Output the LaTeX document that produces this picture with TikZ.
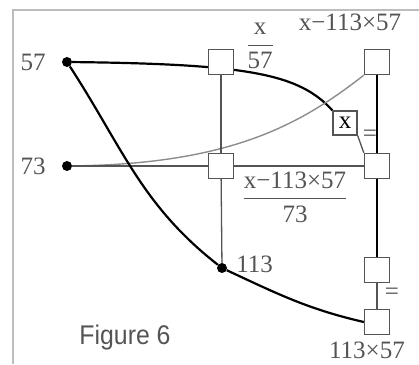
\documentclass[tikz,border=0pt]{standalone}
\usepackage{amsmath}
\usepackage{fontspec}
\setmainfont{Liberation Serif}
\setsansfont{Liberation Sans}
\usetikzlibrary{positioning,backgrounds}
\definecolor{marco}{rgb}{0.74,0.74,0.74}
\definecolor{grisclaro}{rgb}{0.55,0.55,0.55}
\definecolor{grisoscuro}{rgb}{0.33,0.33,0.33}
\newcommand{\rotulo}{\fontsize{25}{27}\selectfont}
\tikzset{
  casilla/.style={
    draw=grisoscuro,
    fill=white,
    line width=1.4pt,
    minimum size=25pt,
    inner sep=0pt,
    font=\rotulo
  },
  punto/.style={
    circle,
    fill=black,
    minimum size=10pt,
    inner sep=0pt
  },
  etiqueta/.style={
    text=grisoscuro,
    inner sep=1pt,
    font=\rotulo
  },
  grueso/.style={
    line width=2.2pt,
    black
  },
  fino/.style={
    line width=1.3pt,
    grisoscuro
  },
  gris/.style={
    line width=1.4pt,
    grisclaro
  }
}

\begin{document}
\begin{tikzpicture}[x=1pt,y=1pt]
\useasboundingbox (0,0) rectangle (419,364);
\draw[marco, line width=1.5pt] (13,0) |- (419,354);
\node[punto] (p57) at (67,302) {};
\node[punto] (p73) at (67,198) {};
\node[punto] (p113) at (222,96) {};
\node[casilla] (a) at (221,302) {};
\node[casilla] (b) at (221,198) {};
\node[casilla] (c) at (377,302) {};
\node[casilla] (d) at (377,198) {};
\node[casilla] (e) at (377,94) {};
\node[casilla] (f) at (377,42) {};
\node[casilla, minimum size=24pt] (xq) at (345,241) {x};
% rotulos
\node[etiqueta] (l57) at (33,302) {57};
\node[etiqueta] (l73) at (33,198) {73};
\node[etiqueta, right=8pt of p113, yshift=4pt] (l113) {113};
\node[etiqueta] (lc) at (350,342) {x−113×57};
\node[etiqueta] (lf) at (367,14) {113×57};
\node[etiqueta] (fa) at (260,318) {$\dfrac{\mbox{x}}{\mbox{57}}$};
\node[etiqueta] (fb) at (295,167) {$\dfrac{\mbox{x−113×57}}{\mbox{73}}$};
\node[etiqueta] (ig1) at (370,228) {=};
\node[etiqueta] (ig2) at (392,70) {=};
\node[font=\sffamily\fontsize{27}{29}\selectfont, text=grisoscuro, xscale=.92] (fig) at (125,26) {Figure 6};
\begin{scope}[on background layer]
\draw[grueso] (p57) .. controls +(183,-2) and +(-33,36) .. (xq.north west);
\draw[gris] (p73) .. controls +(163,2) and +(-64,-50) .. (c.south west);
\draw[fino] (p73) -- (b);
\draw[fino] (b) -- (d);
\draw[fino] (a) -- (b);
\draw[fino] (b) -- (p113);
\draw[grueso] (c) -- (d);
\draw[grueso] (d) -- (e);
\draw[fino] (e) -- (f);
\draw[fino] (xq.south east) -- (d.north west);
\draw[grueso] (p57) to[out=-57,in=142] (p113) to[out=-25,in=167] (f.west);
\end{scope}
\end{tikzpicture}
\end{document}
